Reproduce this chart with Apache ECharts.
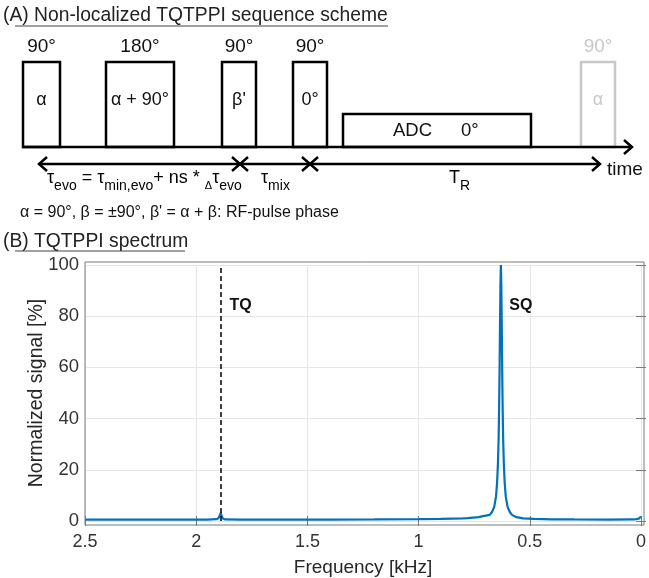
<!DOCTYPE html>
<html>
<head>
<meta charset="utf-8">
<script src="https://cdn.jsdelivr.net/npm/echarts@6/dist/echarts.min.js"></script>
<style>
  html, body { margin: 0; padding: 0; background: #fff; }
  #chart { width: 649px; height: 578px; }
</style>
</head>
<body>
<div id="chart"></div>
<script>
// spectrum: [frequency kHz, normalized signal %]
const spectrum = [
  [2.5, 0.5], [2.3, 0.5], [2.1, 0.5], [1.95, 0.55], [1.91, 0.7], [1.9, 1.1],
  [1.895, 1.9], [1.89, 3.2], [1.885, 1.9], [1.88, 1.0], [1.87, 0.6], [1.8, 0.5],
  [1.6, 0.5], [1.4, 0.55], [1.2, 0.6], [1.0, 0.7], [0.9, 0.8], [0.8, 1.0],
  [0.78, 1.1], [0.73, 1.5], [0.71, 1.9], [0.68, 2.4], [0.67, 3.5], [0.66, 5.5],
  [0.652, 9.5], [0.647, 15], [0.643, 23], [0.64, 33], [0.638, 44], [0.636, 58],
  [0.634, 76], [0.632, 92], [0.63, 100], [0.628, 92], [0.626, 76], [0.624, 58],
  [0.622, 44], [0.62, 33], [0.617, 23], [0.613, 15], [0.608, 9.5], [0.6, 5.5],
  [0.59, 3.5], [0.58, 2.4], [0.56, 1.5], [0.53, 1.0], [0.48, 0.8], [0.4, 0.65],
  [0.3, 0.6], [0.15, 0.55], [0.03, 0.6], [0.01, 0.9], [0, 1.8]
]
const tqFrequency = 1.89
const peakLabels = ['TQ', 'SQ']
const peakLabelPos = [[1.8, 84], [0.54, 84]]
const xTicks = [2.5, 2, 1.5, 1, 0.5, 0]
const yTicks = [0, 20, 40, 60, 80, 100]

// pulse scheme
const pulseAngles = ['90°', '180°', '90°', '90°']
const pulsePhases = ['α', 'α + 90°', "β'", '0°']

const FONT = '"Liberation Sans", Arial, sans-serif'
const pulseBoxes = [[23, 60], [106, 174], [222, 256], [293, 327]]

const graphic = []
const txt = (x, y, text, size, opt) => graphic.push(Object.assign({
  type: 'text', x, y,
  style: Object.assign({ text, fontSize: size, fontFamily: FONT, fill: '#111', textVerticalAlign: 'middle' }, opt || {})
}))
const line = (x1, y1, x2, y2, color, w) => graphic.push({
  type: 'line', shape: { x1, y1, x2, y2 },
  style: { stroke: color || '#000', lineWidth: w || 2.5 }
})
const head = (pts, color) => graphic.push({
  type: 'polyline', shape: { points: pts },
  style: { stroke: color || '#000', lineWidth: 2.5, fill: 'none' }
})

// title A
txt(3, 16, '(A) Non-localized TQTPPI sequence scheme', 19.3, { fill: '#222' })
line(15, 26, 388, 26, '#444', 1.2)

// pulses
pulseBoxes.forEach((b, i) => {
  graphic.push({
    type: 'rect', shape: { x: b[0], y: 62, width: b[1] - b[0], height: 85 },
    style: { fill: 'none', stroke: '#000', lineWidth: 2.5 }
  })
  txt((b[0] + b[1]) / 2, 47, pulseAngles[i], 19, { textAlign: 'center' })
  txt((b[0] + b[1]) / 2, 100, pulsePhases[i], 18, { textAlign: 'center' })
})
// ADC
graphic.push({
  type: 'rect', shape: { x: 343, y: 114, width: 188, height: 33 },
  style: { fill: 'none', stroke: '#000', lineWidth: 2.5 }
})
txt(393, 131, 'ADC', 18.5)
txt(461, 131, '0°', 18.5)
// next (grey) pulse
graphic.push({
  type: 'rect', shape: { x: 581, y: 62, width: 34, height: 85 },
  style: { fill: 'none', stroke: '#c8c8c8', lineWidth: 2.5 }
})
txt(598, 47, '90°', 19, { textAlign: 'center', fill: '#c8c8c8' })
txt(598, 100, 'α', 18, { textAlign: 'center', fill: '#c8c8c8' })

// time axis
line(22, 147, 632, 147)
head([[624, 140], [632, 147], [624, 154]])
// interval arrows
line(39, 164, 600, 164)
head([[47, 157], [39, 164], [47, 171]])
head([[232, 157], [240, 164], [232, 171]])
head([[248, 157], [240, 164], [248, 171]])
head([[302, 157], [310, 164], [302, 171]])
head([[318, 157], [310, 164], [318, 171]])
head([[592, 157], [600, 164], [592, 171]])
txt(607, 170, 'time', 19)

const rich = {
  m: { fontSize: 18, fontFamily: FONT, color: '#111', lineHeight: 20, verticalAlign: 'top' },
  s: { fontSize: 14, fontFamily: FONT, color: '#111', lineHeight: 14, padding: [10, 0, 0, 0], verticalAlign: 'top' },
  d: { fontSize: 11, fontFamily: FONT, color: '#111', lineHeight: 12, padding: [11, 0, 0, 0], verticalAlign: 'top' }
}
graphic.push({
  type: 'text', x: 47, y: 169,
  style: { text: '{m|τ}{s|evo}{m| = τ}{s|min,evo}{m|+ ns * }{d|Δ}{m|τ}{s|evo}', rich }
})
graphic.push({
  type: 'text', x: 261, y: 169,
  style: { text: '{m|τ}{s|mix}', rich }
})
graphic.push({
  type: 'text', x: 449, y: 169,
  style: { text: '{m|T}{s|R}', rich }
})
txt(20, 213, "α = 90°, β = ±90°, β' = α + β: RF-pulse phase", 16)

// title B
txt(3, 242, '(B) TQTPPI spectrum', 19.3, { fill: '#222' })
line(15, 251, 185, 251, '#444', 1.2)

// plot frame
graphic.push({
  type: 'rect', z: 10, shape: { x: 85, y: 262, width: 559, height: 263 },
  style: { fill: 'none', stroke: '#7a7a7a', lineWidth: 1 }
})

const chart = echarts.init(document.getElementById('chart'))
const tickStyle = { inside: true, length: 5, lineStyle: { color: '#7a7a7a' } }
chart.setOption({
  animation: false,
  textStyle: { fontFamily: FONT },
  graphic,
  grid: { left: 85, right: 5, top: 265, bottom: 56 },
  xAxis: [
    {
      type: 'value', inverse: true, min: 0, max: 2.5, interval: 0.5, offset: 3,
      name: 'Frequency [kHz]', nameLocation: 'middle', nameGap: 34, nameMoveOverlap: false,
      nameTextStyle: { fontSize: 19, color: '#262626', fontFamily: FONT },
      axisLine: { show: false }, axisTick: tickStyle,
      axisLabel: { fontSize: 18, color: '#333', margin: 9, formatter: v => xTicks.includes(v) ? String(v) : '' },
      splitLine: { show: true, lineStyle: { color: '#e6e6e6' } }
    },
    {
      type: 'value', inverse: true, min: 0, max: 2.5, interval: 0.5, offset: 3, position: 'top',
      axisLine: { show: false }, axisTick: tickStyle, axisLabel: { show: false }, splitLine: { show: false }
    }
  ],
  yAxis: [
    {
      type: 'value', min: 0, max: 100, interval: 20,
      name: 'Normalized signal [%]', nameLocation: 'middle', nameGap: 38, nameMoveOverlap: false,
      nameTextStyle: { fontSize: 19.5, color: '#262626', fontFamily: FONT },
      axisLine: { show: false }, axisTick: tickStyle,
      axisLabel: { fontSize: 18.5, color: '#333', margin: 6, formatter: v => yTicks.includes(v) ? String(v) : '' },
      splitLine: { show: true, lineStyle: { color: '#e6e6e6' } }
    },
    {
      type: 'value', min: 0, max: 100, interval: 20, position: 'right',
      axisLine: { show: false }, axisTick: tickStyle, axisLabel: { show: false }, splitLine: { show: false }
    }
  ],
  series: [
    {
      type: 'line', data: spectrum, showSymbol: false, smooth: false,
      lineStyle: { color: '#0072BD', width: 2.2 },
      markLine: {
        silent: true, symbol: 'none',
        lineStyle: { color: '#111', type: [5, 3], width: 1.6 },
        label: { show: false },
        data: [{ xAxis: tqFrequency }]
      },
      markPoint: {
        symbol: 'circle', symbolSize: 0, silent: true,
        label: { show: true, position: 'inside', fontSize: 16, fontWeight: 'bold', color: '#111' },
        data: peakLabels.map((n, i) => ({ coord: peakLabelPos[i], label: { formatter: n } }))
      }
    }
  ]
})
</script>
</body>
</html>
